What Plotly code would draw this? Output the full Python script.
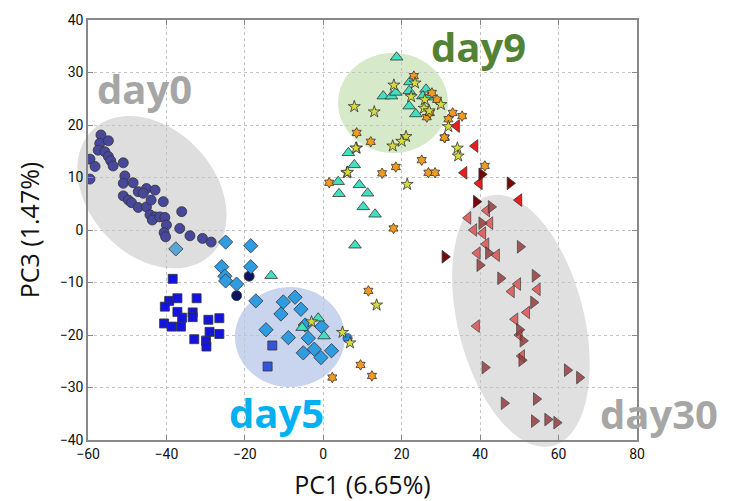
import numpy as np
import plotly.graph_objects as go

# ---------------- data ----------------
day0_circ_x = [-56.7, -57.0, -54.8, -57.4, -55.7, -54.8, -54.2, -53.6, -59.5, -58.2, -51.0, -59.5, -50.6, -51.0,
               -48.5, -47.2, -45.1, -42.9, -45.9, -51.0, -49.7, -48.9, -47.2, -45.1, -43.9, -40.8, -44.2, -42.9,
               -43.6, -41.7, -40.4, -36.1, -40.0, -40.6, -40.2, -36.6, -34.0, -30.8, -28.6]
day0_circ_y = [18.1, 16.5, 17.0, 15.2, 14.9, 14.0, 13.2, 12.2, 13.5, 12.1, 12.8, 9.7, 10.3, 8.9,
               9.0, 7.3, 7.9, 7.6, 7.0, 6.5, 5.7, 5.2, 4.3, 4.4, 5.7, 5.4, 2.9, 2.5,
               1.9, 2.5, 2.4, 3.5, 0.95, -0.5, -1.3, 0.3, -1.1, -1.6, -2.3]

navy_circ_x = [-18.9, -22.1]
navy_circ_y = [-8.8, -12.5]

sq_x = [-38.4, -39.3, -37.2, -32.3, -40.4, -37.2, -36.0, -33.3, -33.3, -40.6, -38.7, -36.3, -29.3,
        -26.5, -29.0, -26.5, -32.9, -29.9, -29.8]
sq_y = [-9.3, -13.5, -13.0, -13.0, -14.6, -15.6, -16.7, -15.7, -16.6, -17.8, -18.4, -18.4, -17.1,
        -16.8, -19.4, -19.8, -20.8, -21.1, -22.2]

sq2_x = [-13.0, -14.2]
sq2_y = [-22.0, -26.0]

dia_x = [-24.9, -18.5, -25.9, -25.1, -24.9, -18.5, -22.1, -17.2, -10.2, -7.2, -5.7, -10.8, -14.6,
         -8.9, -3.8, -0.4, -5.1, -2.3, -0.6, 2.1, -4.6]
dia_y = [-2.3, -3.0, -7.0, -8.8, -9.7, -7.0, -10.3, -13.5, -13.7, -12.8, -15.1, -16.0, -19.0,
         -20.5, -20.6, -18.4, -23.4, -22.7, -24.3, -23.0, -18.1]

dia2_x = [-37.6]
dia2_y = [-3.6]

tri_x = [18.7, 15.3, 17.4, 18.5, 22.1, 21.9, 26.2, 25.4, 26.9, 21.9, 23.6,
         6.4, 7.9, 3.8, 4.0, 9.2, 11.3, 10.2, 13.2, 8.1,
         -13.3, -1.3, -5.4, 0.2]
tri_y = [32.9, 25.5, 25.5, 26.2, 28.2, 26.5, 26.8, 25.5, 25.3, 23.6, 22.1,
         14.7, 12.4, 9.2, 6.9, 8.6, 7.0, 4.4, 3.0, -2.9,
         -8.7, -16.8, -18.6, -20.2]

bcirc_x = [6.2]
bcirc_y = [-20.6]

star_x = [18.0, 7.9, 13.0, 23.4, 22.4, 25.9, 25.7, 27.0, 30.0, 21.1, 20.0, 17.7, 8.5, 31.9,
          34.2, 34.4, 6.0, 8.3, 6.2, 21.4, 13.6, -3.0, 4.9, 6.8]
star_y = [27.6, 23.5, 22.5, 28.0, 25.4, 24.8, 23.2, 22.7, 23.9, 17.8, 16.9, 16.0, 15.6, 19.7,
          15.6, 14.1, 10.9, 15.6, 11.0, 8.7, -14.3, -17.5, -19.5, -21.5]

hexa_x = [23.1, 27.7, 29.0, 26.4, 27.2, 8.5, 12.1, 33.0, 35.4, 31.9, 31.0, 25.1, 18.5, 15.0,
          26.8, 28.5, 41.2, 1.5, 30.9, 17.9, 11.5, 9.5, 12.4, 2.3]
hexa_y = [29.3, 26.1, 24.8, 21.5, 22.3, 18.5, 16.8, 22.3, 21.7, 21.1, 17.6, 13.3, 12.0, 10.8,
          10.9, 10.9, 12.2, 9.0, 17.6, 0.3, -11.6, -25.7, -27.8, -28.1]

red_l_x = [34.0, 38.7, 35.9, 39.8, 49.9]
red_l_y = [19.8, 16.0, 10.9, 8.9, 5.7]

dred_r_x = [40.4, 47.6, 39.0, 31.0]
dred_r_y = [10.6, 8.9, 5.4, -5.1]

salm_l_x = [36.9, 41.7, 42.5, 38.4, 40.7, 41.5, 39.3, 44.2, 49.6, 48.0, 54.6,
            51.9, 48.9, 39.1, 50.0, 50.6]
salm_l_y = [2.3, 3.7, 1.3, 0.0, -0.6, -2.7, -4.4, -4.8, -10.3, -11.7, -11.3,
            -15.7, -17.0, -18.3, -20.0, -24.0]

brown_r_x = [42.8, 40.4, 50.2, 42.1, 39.9, 45.2, 54.0, 53.6, 50.0, 50.9, 50.6, 41.2, 62.2, 65.3,
             46.1, 54.3, 53.8, 57.2, 59.5]
brown_r_y = [4.4, 1.3, -3.2, -4.4, -6.7, -9.2, -8.7, -13.8, -19.0, -21.1, -24.8, -26.2, -26.7, -28.1,
             -33.0, -32.2, -36.4, -36.1, -36.7]

x_range = [-60, 80]
y_range = [-40, 40]
x_ticks = [-60, -40, -20, 0, 20, 40, 60, 80]
y_ticks = [-40, -30, -20, -10, 0, 10, 20, 30, 40]

group_labels = ["day0", "day9", "day5", "day30"]
label_x = [-45.5, 39.7, -12.0, 85.6]
label_y = [27.0, 34.9, -34.7, -34.9]
label_colors = ["#A6A6A6", "#548235", "#00B0F0", "#A6A6A6"]

# ---------------- figure ----------------
W, H = 740, 501
ML, MR, MT, MB = 88, 103, 20, 61
PW, PH = W - ML - MR, H - MT - MB
XS = x_range[1] - x_range[0]
YS = y_range[1] - y_range[0]


def px_(v):  # data x -> paper fraction
    return (v - x_range[0]) / XS


def py_(v):  # data y -> paper fraction
    return (v - y_range[0]) / YS


def ellipse_path(cx, cy, a, b, theta_deg, n=120):
    """Ellipse in paper coordinates; a, b, angle given in screen pixels."""
    th = np.deg2rad(theta_deg)
    t = np.linspace(0, 2 * np.pi, n)
    ox = a * np.cos(t) * np.cos(th) - b * np.sin(t) * np.sin(th)
    oy = a * np.cos(t) * np.sin(th) + b * np.sin(t) * np.cos(th)
    xs = px_(cx) + ox / PW
    ys = py_(cy) - oy / PH
    pts = [f"{x:.4f},{y:.4f}" for x, y in zip(xs, ys)]
    return "M " + " L ".join(pts) + " Z"


fig = go.Figure()

line = dict(color="#333333", width=0.8)


def add(xs, ys, symbol, color, size, opacity=1.0, name=""):
    fig.add_trace(go.Scatter(x=xs, y=ys, mode="markers", name=name,
                             marker=dict(symbol=symbol, color=color, size=size, opacity=opacity, line=line)))


add(day0_circ_x, day0_circ_y, "circle", "#47479B", 10, name="day0")
add(navy_circ_x, navy_circ_y, "circle", "#0B1560", 10)
add(sq_x, sq_y, "square", "#1414E0", 9)
add(sq2_x, sq2_y, "square", "#3355DD", 9)
add(dia2_x, dia2_y, "diamond", "#5AA6D6", 11)
add(dia_x, dia_y, "diamond", "#2F9BE0", 11)
add(tri_x, tri_y, "triangle-up", "#40E0C0", 11)
add(bcirc_x, bcirc_y, "circle", "#1E90E8", 9)
add(hexa_x, hexa_y, "hexagram", "#F39A1E", 8)
add(star_x, star_y, "star", "#D4DC3C", 9)
add(salm_l_x, salm_l_y, "triangle-left", "#E05050", 11, 0.85)
add(brown_r_x, brown_r_y, "triangle-right", "#963C3C", 11, 0.85)
add(red_l_x, red_l_y, "triangle-left", "#EE1C1C", 11)
add(dred_r_x, dred_r_y, "triangle-right", "#760808", 11)

ell_kw = dict(type="path", xref="paper", yref="paper", line=dict(width=0), layer="below")
shapes = [
    dict(path=ellipse_path(-43.7, 7.2, 86, 63, 47), fillcolor="#DEDEDE", **ell_kw),
    dict(path=ellipse_path(17.8, 24.2, 55, 50, 0), fillcolor="#D6E9C9", **ell_kw),
    dict(path=ellipse_path(-8.5, -20.4, 55, 50, 0), fillcolor="#C9D5EE", **ell_kw),
    dict(path=ellipse_path(50.4, -17.3, 129, 63, 75.8), fillcolor="#E0E0E0", **ell_kw),
]

annotations = [
    dict(x=px_(lx), y=py_(ly), xref="paper", yref="paper", text=t, showarrow=False,
         xanchor="center", yanchor="middle",
         font=dict(family="Open Sans", size=40, color=c, weight="bold"))
    for t, lx, ly, c in zip(group_labels, label_x, label_y, label_colors)
]

axis_common = dict(showline=True, mirror="ticks", linecolor="#888888", linewidth=1.5,
                   ticks="inside", ticklen=5, tickcolor="#888888", tickwidth=1,
                   showgrid=True, gridcolor="#C4C4C4", griddash="dot", gridwidth=1,
                   zeroline=False, automargin=False,
                   tickfont=dict(family="Roboto", size=14, color="#111111"))

fig.update_layout(
    width=W, height=H,
    margin=dict(l=ML, r=MR, t=MT, b=MB),
    paper_bgcolor="white", plot_bgcolor="rgba(0,0,0,0)",
    showlegend=False,
    shapes=shapes,
    annotations=annotations,
    xaxis=dict(range=x_range, tickvals=x_ticks,
               title=dict(text="PC1 (6.65%)", font=dict(family="Open Sans", size=25, color="#111111"), standoff=17),
               **axis_common),
    yaxis=dict(range=y_range, tickvals=y_ticks,
               title=dict(text="PC3 (1.47%)", font=dict(family="Open Sans", size=25, color="#111111"), standoff=13),
               **axis_common),
)

fig.write_html("out.html", config={"displayModeBar": False},
               post_script="document.body.style.margin='0';document.body.style.overflow='hidden';")
